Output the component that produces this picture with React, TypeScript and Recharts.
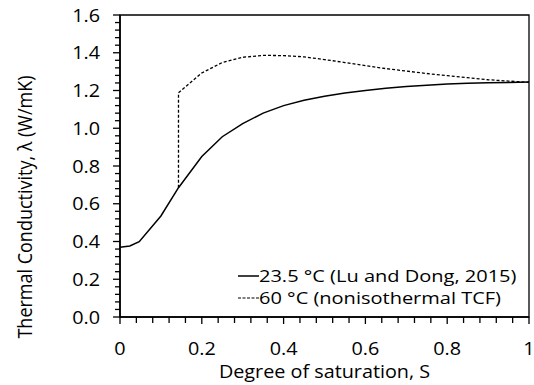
import React from 'react';
import {
  LineChart,
  Line,
  XAxis,
  YAxis,
  ReferenceArea,
  Legend,
} from 'recharts';

// 23.5 °C curve (Lu and Dong, 2015)
const sat23 = [0, 0.024, 0.047, 0.1, 0.143, 0.2, 0.25, 0.3, 0.35, 0.4, 0.45, 0.5, 0.55, 0.6, 0.65, 0.7, 0.75, 0.8, 0.85, 0.9, 0.95, 1.0];
const lambda23 = [0.369, 0.376, 0.399, 0.535, 0.685, 0.85, 0.955, 1.025, 1.08, 1.12, 1.148, 1.17, 1.187, 1.2, 1.212, 1.221, 1.228, 1.234, 1.238, 1.241, 1.243, 1.245];

// 60 °C curve (nonisothermal TCF)
const sat60 = [0.143, 0.143, 0.2, 0.25, 0.3, 0.35, 0.4, 0.45, 0.5, 0.55, 0.6, 0.65, 0.7, 0.75, 0.8, 0.85, 0.9, 0.95, 1.0];
const lambda60 = [0.685, 1.188, 1.293, 1.348, 1.376, 1.386, 1.385, 1.378, 1.364, 1.348, 1.332, 1.316, 1.303, 1.29, 1.279, 1.268, 1.257, 1.25, 1.243];

const xMajorTicks = [0, 0.2, 0.4, 0.6, 0.8, 1];
const yMajorTicks = [0, 0.2, 0.4, 0.6, 0.8, 1.0, 1.2, 1.4, 1.6];
const xLabels = ['0', '0.2', '0.4', '0.6', '0.8', '1'];
const yLabels = ['0.0', '0.2', '0.4', '0.6', '0.8', '1.0', '1.2', '1.4', '1.6'];

const seriesNames = ['23.5 °C (Lu and Dong, 2015)', '60 °C (nonisothermal TCF)'];

// 5 minor divisions between each major tick
const withMinor = (major: number[]) => {
  const out: number[] = [];
  for (let i = 0; i < major.length - 1; i++) {
    const step = (major[i + 1] - major[i]) / 5;
    for (let k = 0; k < 5; k++) out.push(+(major[i] + k * step).toFixed(4));
  }
  out.push(major[major.length - 1]);
  return out;
};

const xTicks = withMinor(xMajorTicks);
const yTicks = withMinor(yMajorTicks);

const data23 = sat23.map((s, i) => ({ s, v: lambda23[i] }));
const data60 = sat60.map((s, i) => ({ s, v: lambda60[i] }));

const FONT = '"Open Sans", sans-serif';
const FS = 18;
// the source figure is a bit stretched sideways
const STRETCH = 1.1;

const majorIndex = (list: number[], v: number) =>
  list.findIndex((m) => Math.abs(m - v) < 1e-6);

const WideText = ({ x, y, anchor, children }: any) => (
  <text
    transform={`translate(${x} ${y}) scale(${STRETCH} 1)`}
    textAnchor={anchor}
    dominantBaseline="central"
    fontSize={FS}
    fontFamily={FONT}
    fill="#000"
  >
    {children}
  </text>
);

const XTick = (props: any) => {
  const { x, y, payload } = props;
  const idx = majorIndex(xMajorTicks, payload.value);
  const len = idx >= 0 ? 7 : 6;
  return (
    <g>
      <line x1={x} x2={x} y1={y} y2={y + len} stroke="#000" strokeWidth={1.3} />
      {idx >= 0 && (
        <WideText x={x} y={y + 31} anchor="middle">
          {xLabels[idx]}
        </WideText>
      )}
    </g>
  );
};

const YTick = (props: any) => {
  const { x, y, payload } = props;
  const idx = majorIndex(yMajorTicks, payload.value);
  const len = idx >= 0 ? 7 : 5;
  return (
    <g>
      <line x1={x - len} x2={x} y1={y} y2={y} stroke="#000" strokeWidth={1.3} />
      {idx >= 0 && (
        <WideText x={100} y={y} anchor="end">
          {yLabels[idx]}
        </WideText>
      )}
    </g>
  );
};

const LegendContent = () => (
  <div style={{ fontFamily: FONT, fontSize: 16, lineHeight: '22px', color: '#000' }}>
    {seriesNames.map((name, i) => (
      <div key={name} style={{ display: 'flex', alignItems: 'center', height: 22, whiteSpace: 'nowrap' }}>
        <svg width={23} height={22}>
          <line x1={2} x2={23} y1={11} y2={11} stroke="#000" strokeWidth={i === 0 ? 1.5 : 1.2} strokeDasharray={i === 0 ? undefined : '3 1.5'} />
        </svg>
        <span style={{ display: 'inline-block', transform: 'scaleX(1.25)', transformOrigin: 'left center' }}>{name}</span>
      </div>
    ))}
  </div>
);

export default function App() {
  return (
    <div style={{ position: 'absolute', left: 0, top: 0, width: 534, height: 385, background: '#fff' }}>
      <LineChart width={534} height={385} margin={{ top: 15, right: 5, left: 0, bottom: 0 }}>
        <XAxis
          type="number"
          dataKey="s"
          domain={[0, 1]}
          ticks={xTicks}
          interval={0}
          height={68}
          tickSize={0}
          tickMargin={0}
          tickLine={false}
          tick={<XTick />}
          axisLine={{ stroke: '#000', strokeWidth: 1.6 }}
          label={{
            content: () => (
              <WideText x={324.5} y={371} anchor="middle">
                Degree of saturation, S
              </WideText>
            ),
          }}
        />
        <YAxis
          type="number"
          dataKey="v"
          domain={[0, 1.6]}
          ticks={yTicks}
          interval={0}
          width={120}
          tickSize={0}
          tickMargin={0}
          tickLine={false}
          tick={<YTick />}
          axisLine={{ stroke: '#000', strokeWidth: 1.6 }}
          label={{
            content: () => (
              <text
                transform={`translate(25 207) rotate(-90) scale(1 ${STRETCH})`}
                textAnchor="middle"
                dominantBaseline="central"
                fontSize={FS}
                fontFamily={FONT}
                fill="#000"
              >
                Thermal Conductivity, λ (W/mK)
              </text>
            ),
          }}
        />
        <ReferenceArea x1={0} x2={1} y1={0} y2={1.6} fill="none" stroke="#000" strokeWidth={1.3} />
        <Legend
          layout="vertical"
          align="center"
          verticalAlign="middle"
          content={<LegendContent />}
          wrapperStyle={{ position: 'absolute', left: 236, top: 265, width: 300 }}
        />
        <Line
          data={data23}
          dataKey="v"
          name={seriesNames[0]}
          type="linear"
          stroke="#000"
          strokeWidth={1.5}
          dot={false}
          isAnimationActive={false}
        />
        <Line
          data={data60}
          dataKey="v"
          name={seriesNames[1]}
          type="linear"
          stroke="#000"
          strokeWidth={1.3}
          strokeDasharray="3 2"
          dot={false}
          isAnimationActive={false}
        />
      </LineChart>
    </div>
  );
}
